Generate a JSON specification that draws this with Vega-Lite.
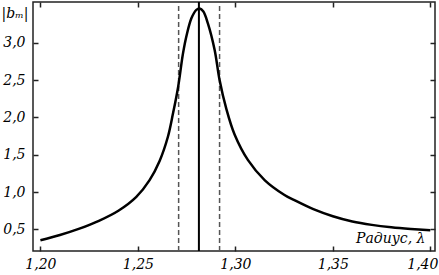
{
  "$schema": "https://vega.github.io/schema/vega-lite/v6.json",
  "autosize": {"type": "none"},
  "padding": {"left": 33, "top": 2, "right": 4, "bottom": 24},
  "width": 402,
  "height": 249,
  "background": "white",
  "config": {
    "view": {"stroke": "#222", "strokeWidth": 1.5},
    "font": "DejaVu Serif",
    "axis": {
      "grid": false,
      "domain": false,
      "tickSize": -5,
      "tickColor": "#222",
      "tickWidth": 1.5,
      "labelFont": "DejaVu Serif",
      "labelFontStyle": "italic",
      "labelFontSize": 14,
      "labelColor": "black",
      "titleFont": "DejaVu Serif",
      "titleFontStyle": "italic",
      "titleFontWeight": "normal",
      "titleFontSize": 14,
      "titleColor": "black"
    }
  },
  "datasets": {
    "curve": [
      {"r": 1.2, "b": 0.355},
      {"r": 1.21, "b": 0.425},
      {"r": 1.22, "b": 0.51},
      {"r": 1.23, "b": 0.615},
      {"r": 1.24, "b": 0.75},
      {"r": 1.2492, "b": 0.936},
      {"r": 1.256, "b": 1.16},
      {"r": 1.2612, "b": 1.42},
      {"r": 1.2654, "b": 1.74},
      {"r": 1.268, "b": 2.05},
      {"r": 1.2706, "b": 2.4},
      {"r": 1.2731, "b": 2.85},
      {"r": 1.275, "b": 3.1},
      {"r": 1.2775, "b": 3.33},
      {"r": 1.28, "b": 3.44},
      {"r": 1.2817, "b": 3.457},
      {"r": 1.2835, "b": 3.42},
      {"r": 1.2859, "b": 3.26},
      {"r": 1.2894, "b": 2.9},
      {"r": 1.2919, "b": 2.5},
      {"r": 1.2953, "b": 2.12},
      {"r": 1.2996, "b": 1.77},
      {"r": 1.3064, "b": 1.43},
      {"r": 1.315, "b": 1.16},
      {"r": 1.3252, "b": 0.96},
      {"r": 1.3303, "b": 0.89},
      {"r": 1.34, "b": 0.77},
      {"r": 1.35, "b": 0.675},
      {"r": 1.36, "b": 0.605},
      {"r": 1.37, "b": 0.56},
      {"r": 1.38, "b": 0.528},
      {"r": 1.39, "b": 0.505},
      {"r": 1.4, "b": 0.487}
    ],
    "vlines": [
      {"r": 1.2709, "kind": "dashed"},
      {"r": 1.2813, "kind": "solid"},
      {"r": 1.2919, "kind": "dashed"}
    ]
  },
  "layer": [
    {
      "data": {"name": "vlines"},
      "mark": {"type": "rule"},
      "encoding": {
        "x": {
          "field": "r", "type": "quantitative",
          "scale": {"domain": [1.1962, 1.4024], "nice": false, "zero": false},
          "axis": {"orient": "top", "values": [1.2, 1.25, 1.3, 1.35, 1.4], "labels": false, "title": null}
        },
        "y": {"datum": 0.21, "type": "quantitative",
          "scale": {"domain": [0.21, 3.545], "nice": false, "zero": false},
          "axis": {"orient": "right", "values": [0.5, 1, 1.5, 2, 2.5, 3], "labels": false, "title": null}
        },
        "y2": {"datum": 3.545},
        "color": {"field": "kind", "type": "nominal", "scale": {"domain": ["dashed", "solid"], "range": ["#555555", "#000000"]}, "legend": null},
        "strokeDash": {"field": "kind", "type": "nominal", "scale": {"domain": ["dashed", "solid"], "range": [[5, 3], [1, 0]]}, "legend": null},
        "strokeWidth": {"field": "kind", "type": "nominal", "scale": {"domain": ["dashed", "solid"], "range": [1.5, 2]}, "legend": null}
      }
    },
    {
      "data": {"name": "curve"},
      "mark": {"type": "line", "color": "black", "strokeWidth": 2.5, "interpolate": "catmull-rom", "clip": true},
      "encoding": {
        "x": {
          "field": "r", "type": "quantitative",
          "axis": {
            "orient": "bottom",
            "values": [1.2, 1.25, 1.3, 1.35, 1.4],
            "labelExpr": "replace(format(datum.value, '.2f'), '.', ',')",
            "labelPadding": 11,
            "labelOffset": {"condition": {"test": "datum.value > 1.39", "value": -8}, "value": 0},
            "title": "Радиус, λ",
            "titleAlign": "right",
            "titleAnchor": null,
            "titleX": 392,
            "titleY": -6,
            "titleBaseline": "bottom"
          }
        },
        "y": {
          "field": "b", "type": "quantitative",
          "axis": {
            "orient": "left",
            "values": [0.5, 1, 1.5, 2, 2.5, 3],
            "labelExpr": "replace(format(datum.value, '.1f'), '.', ',')",
            "labelPadding": 13,
            "title": "|bₘ|",
            "titleAngle": 0,
            "titleAlign": "left",
            "titleBaseline": "alphabetic",
            "titleX": -32,
            "titleY": 15
          }
        }
      }
    }
  ],
  "resolve": {"axis": {"x": "independent", "y": "independent"}}
}
